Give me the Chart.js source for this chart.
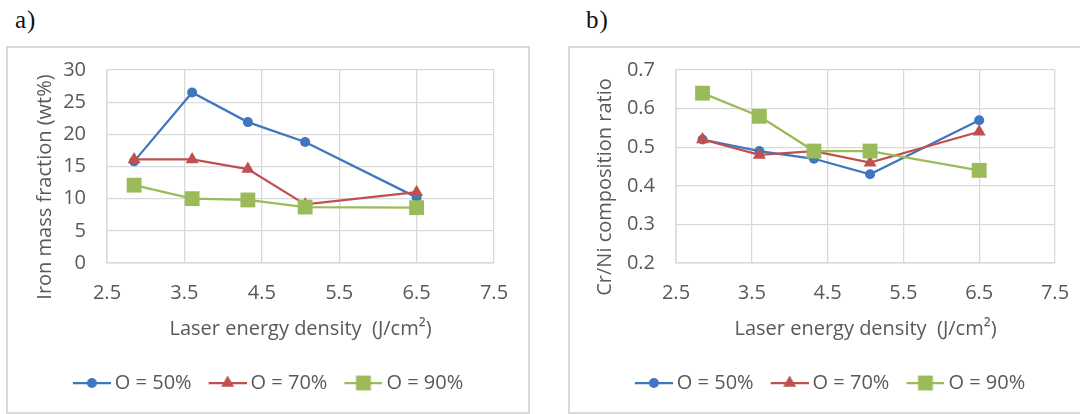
<!DOCTYPE html>
<html>
<head>
<meta charset="utf-8">
<script src="https://cdn.jsdelivr.net/npm/chart.js@4/dist/chart.umd.min.js"></script>
<style>
    html, body { margin: 0; padding: 0; background: #fff; overflow: hidden; width: 1080px; height: 414px; }
    .panel-label { position: absolute; font-family: "Liberation Serif", "DejaVu Serif", serif; font-size: 25px; color: #111; letter-spacing: 1px; }
    .box { position: absolute; top: 46px; width: 524px; height: 368px; border: 2px solid #d9d9d9; box-sizing: border-box; background: #fff; }
    .box canvas { display: block; }
</style>
</head>
<body>
<div class="panel-label" style="left:15px; top:6px;">a)</div>
<div class="panel-label" style="left:586px; top:6px;">b)</div>
<div class="box" style="left:6px;"><canvas id="ironChart" width="520" height="364"></canvas></div>
<div class="box" style="left:568px;"><canvas id="ratioChart" width="520" height="364"></canvas></div>

<script>
// Data
const energy = [2.85, 3.6, 4.32, 5.06, 6.5];

const seriesNames = ['O = 50%', 'O = 70%', 'O = 90%'];

const ironO50 = [15.8, 26.5, 21.9, 18.8, 10.2];
const ironO70 = [16.1, 16.1, 14.6, 9.1, 11.0];
const ironO90 = [12.1, 10.0, 9.8, 8.7, 8.6];

const ratioO50 = [0.52, 0.49, 0.47, 0.43, 0.57];
const ratioO70 = [0.52, 0.48, 0.49, 0.46, 0.54];
const ratioO90 = [0.64, 0.58, 0.49, 0.49, 0.44];

const xTicks = [2.5, 3.5, 4.5, 5.5, 6.5, 7.5];
const ironTicks = [0, 5, 10, 15, 20, 25, 30];
const ratioTicks = [0.2, 0.3, 0.4, 0.5, 0.6, 0.7];

const FONT = '"Open Sans", "Noto Sans", sans-serif';
const FONT_SIZE = 20;
const TEXT_GREY = '#595959';
const GRID_GREY = '#d9d9d9';

const styles = [
    { color: '#3F77BE', shape: 'circle', radius: 5 },
    { color: '#C0504D', shape: 'triangle', radius: 7.5 },
    { color: '#9BBB59', shape: 'rect', radius: 10.5 }
];

Chart.defaults.font.family = FONT;
Chart.defaults.color = TEXT_GREY;

// little canvas with a line and the marker, used as legend symbol
function legendSymbol(style) {
    const c = document.createElement('canvas');
    c.width = 44;
    c.height = 24;
    const g = c.getContext('2d');
    g.strokeStyle = style.color;
    g.fillStyle = style.color;
    g.lineWidth = 2.25;
    g.beginPath();
    g.moveTo(6, 12);
    g.lineTo(44, 12);
    g.stroke();
    const cx = 25, cy = 12, r = style.radius;
    g.beginPath();
    if (style.shape === 'circle') {
        g.arc(cx, cy, r, 0, Math.PI * 2);
    } else if (style.shape === 'triangle') {
        g.moveTo(cx, cy - r);
        g.lineTo(cx + r * 0.866, cy + r * 0.5);
        g.lineTo(cx - r * 0.866, cy + r * 0.5);
        g.closePath();
    } else {
        const h = r * Math.SQRT1_2;
        g.rect(cx - h, cy - h, 2 * h, 2 * h);
    }
    g.fill();
    return c;
}

// rotated y title, placed like in the Excel original
const sideTitle = {
    id: 'sideTitle',
    afterDraw(chart, args, opts) {
        const ctx = chart.ctx;
        ctx.save();
        ctx.font = FONT_SIZE + 'px ' + FONT;
        ctx.fillStyle = TEXT_GREY;
        ctx.textAlign = 'center';
        ctx.textBaseline = 'middle';
        ctx.translate(opts.x, opts.y);
        ctx.rotate(-Math.PI / 2);
        ctx.fillText(opts.text, 0, 0);
        ctx.restore();
    }
};

function makeDatasets(seriesList) {
    return seriesList.map((vals, i) => ({
        label: seriesNames[i],
        data: vals.map((v, k) => ({ x: energy[k], y: v })),
        borderColor: styles[i].color,
        backgroundColor: styles[i].color,
        pointBackgroundColor: styles[i].color,
        pointBorderColor: styles[i].color,
        pointBorderWidth: 0,
        pointStyle: styles[i].shape,
        pointRadius: styles[i].radius,
        pointHoverRadius: styles[i].radius,
        borderWidth: 2.25,
        tension: 0,
        order: 3 - i
    }));
}

function buildChart(canvasId, seriesList, yTicks, yMin, yMax, decimals, yTitle, dims) {
    const ctx = document.getElementById(canvasId).getContext('2d');
    return new Chart(ctx, {
        type: 'line',
        data: { datasets: makeDatasets(seriesList) },
        plugins: [sideTitle],
        options: {
            responsive: false,
            animation: false,
            layout: { padding: { top: 22, left: 0, right: 0, bottom: 9 } },
            scales: {
                x: {
                    type: 'linear',
                    min: 2.5,
                    max: 7.5,
                    afterBuildTicks: s => { s.ticks = xTicks.map(v => ({ value: v })); },
                    afterFit: s => { s.height = dims.xHeight; },
                    grid: { color: GRID_GREY, lineWidth: 1.3, drawTicks: false },
                    border: { color: GRID_GREY, width: 1.5 },
                    ticks: {
                        padding: 18,
                        font: { size: FONT_SIZE },
                        color: TEXT_GREY,
                        maxRotation: 0,
                        callback: v => v.toFixed(1)
                    },
                    title: {
                        display: true,
                        text: 'Laser energy density  (J/cm²)',
                        font: { size: FONT_SIZE },
                        color: TEXT_GREY,
                        padding: { top: 0, bottom: 15 }
                    }
                },
                y: {
                    min: yMin,
                    max: yMax,
                    afterBuildTicks: s => { s.ticks = yTicks.map(v => ({ value: v })); },
                    afterFit: s => { s.width = dims.yWidth; },
                    // invisible tick marks keep the labels away from the axis
                    grid: { color: GRID_GREY, lineWidth: 1.3, drawTicks: true, tickLength: 21, tickColor: 'rgba(0,0,0,0)' },
                    border: { color: GRID_GREY, width: 1.5 },
                    ticks: {
                        padding: 0,
                        font: { size: FONT_SIZE },
                        color: TEXT_GREY,
                        callback: v => v.toFixed(decimals)
                    }
                },
                yRight: {
                    position: 'right',
                    display: true,
                    afterFit: s => { s.width = dims.rightWidth; },
                    grid: { display: false, drawTicks: false },
                    border: { display: false },
                    ticks: { display: false }
                }
            },
            plugins: {
                legend: {
                    position: 'bottom',
                    labels: {
                        usePointStyle: true,
                        pointStyleWidth: 32,
                        padding: 17,
                        font: { size: FONT_SIZE, family: FONT },
                        color: TEXT_GREY,
                        sort: (a, b) => a.datasetIndex - b.datasetIndex,
                        generateLabels: chart => chart.data.datasets.map((ds, i) => ({
                            text: ds.label,
                            datasetIndex: i,
                            pointStyle: legendSymbol(styles[i]),
                            fillStyle: ds.borderColor,
                            strokeStyle: ds.borderColor,
                            lineWidth: 0,
                            fontColor: TEXT_GREY,
                            hidden: false
                        }))
                    }
                },
                tooltip: { enabled: false },
                sideTitle: { text: yTitle, x: dims.titleX, y: 139 }
            }
        }
    });
}

buildChart('ironChart', [ironO50, ironO70, ironO90], ironTicks, 0, 30, 0,
    'Iron mass fraction (wt%)', { yWidth: 99, rightWidth: 34, xHeight: 93, titleX: 37 });

buildChart('ratioChart', [ratioO50, ratioO70, ratioO90], ratioTicks, 0.2, 0.7, 1,
    'Cr/Ni composition ratio', { yWidth: 106, rightWidth: 35, xHeight: 93, titleX: 35 });
</script>
</body>
</html>
